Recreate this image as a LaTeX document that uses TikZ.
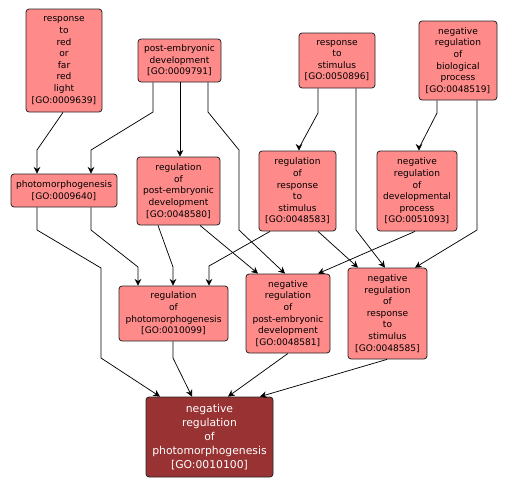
\documentclass[tikz,border=0pt]{standalone}
\usepackage{fontspec}
\setmainfont{DejaVu Sans}
\usetikzlibrary{arrows.meta}
\definecolor{gopink}{RGB}{255,138,138}
\definecolor{godark}{RGB}{153,50,50}
\tikzset{
  gobox/.style={draw=black!85, line width=0.6pt, rounded corners=2.3pt, fill=gopink,
    align=center, inner sep=0pt, font=\fontsize{6.8}{8.7}\selectfont},
  gofocus/.style={gobox, fill=godark, text=white, font=\fontsize{8.1}{10.5}\selectfont},
  golink/.style={draw=black, line width=0.55pt, -{Stealth[length=5pt,width=5pt,inset=1.6pt]}}
}
\begin{document}
\begin{tikzpicture}[x=0.75pt,y=-0.75pt]
\useasboundingbox (0,0) rectangle (507,487);
\node[gobox, minimum width=76*0.75pt, minimum height=103*0.75pt] (A) at (64,60.5) {response\\to\\red\\or\\far\\red\\light\\{[GO:0009639]}};
\node[gobox, minimum width=83*0.75pt, minimum height=43*0.75pt] (B) at (179.5,60.5) {post-embryonic\\development\\{[GO:0009791]}};
\node[gobox, minimum width=76*0.75pt, minimum height=55*0.75pt] (C) at (337,60.5) {response\\to\\stimulus\\{[GO:0050896]}};
\node[gobox, minimum width=78*0.75pt, minimum height=79*0.75pt] (D) at (458,60.5) {negative\\regulation\\of\\biological\\process\\{[GO:0048519]}};
\node[gobox, minimum width=106*0.75pt, minimum height=33*0.75pt] (E) at (64,190.5) {photomorphogenesis\\{[GO:0009640]}};
\node[gobox, minimum width=83*0.75pt, minimum height=68*0.75pt] (F) at (178.5,191) {regulation\\of\\post-embryonic\\development\\{[GO:0048580]}};
\node[gobox, minimum width=77*0.75pt, minimum height=80*0.75pt] (G) at (297.5,191) {regulation\\of\\response\\to\\stimulus\\{[GO:0048583]}};
\node[gobox, minimum width=80*0.75pt, minimum height=80*0.75pt] (H) at (417,191) {negative\\regulation\\of\\developmental\\process\\{[GO:0051093]}};
\node[gobox, minimum width=109*0.75pt, minimum height=55*0.75pt] (I) at (173.5,313.5) {regulation\\of\\photomorphogenesis\\{[GO:0010099]}};
\node[gobox, minimum width=84*0.75pt, minimum height=79*0.75pt] (J) at (288,313.5) {negative\\regulation\\of\\post-embryonic\\development\\{[GO:0048581]}};
\node[gobox, minimum width=79*0.75pt, minimum height=91*0.75pt] (K) at (387.5,313.5) {negative\\regulation\\of\\response\\to\\stimulus\\{[GO:0048585]}};
\node[gofocus, minimum width=127*0.75pt, minimum height=80*0.75pt] (L) at (209.5,437) {negative\\regulation\\of\\photomorphogenesis\\{[GO:0010100]}};
% edges
\draw[golink] (A.south -| 63,0) -- (37,150) -- (E.north -| 37,0);
\draw[golink] (B.south -| 153,0) -- (153,112) -- (91,150) -- (E.north -| 91,0);
\draw[golink] (B.south -| 180,0) -- (F.north -| 180,0);
\draw[golink] (B.south -| 208,0) -- (208,112) -- (239,150) -- (239,230) -- (J.north -| 285,0);
\draw[golink] (C.south -| 318,0) -- (318,113) -- (299,148) -- (G.north -| 299,0);
\draw[golink] (C.south -| 356,0) -- (356,230) -- (K.north -| 385,0);
\draw[golink] (D.south -| 437,0) -- (437,113) -- (419,148) -- (H.north -| 419,0);
\draw[golink] (D.south -| 477,0) -- (477,230) -- (K.north -| 415,0);
\draw[golink] (E.south -| 91,0) -- (91,230) -- (138,267) -- (I.north -| 138,0);
\draw[golink] (E.south -| 37,0) -- (37,230) -- (101,268) -- (101,358) -- (L.north -| 160,0);
\draw[golink] (F.south -| 158,0) -- (173,267) -- (I.north -| 173,0);
\draw[golink] (F.south -| 200,0) -- (J.north -| 258,0);
\draw[golink] (G.south -| 270,0) -- (209,266) -- (I.north -| 209,0);
\draw[golink] (G.south -| 318,0) -- (K.north -| 358,0);
\draw[golink] (H.south -| 415,0) -- (J.north -| 318,0);
\draw[golink] (I.south -| 173,0) -- (173,358) -- (L.north -| 192,0);
\draw[golink] (J.south -| 288,0) -- (L.north -| 228,0);
\draw[golink] (K.south -| 387,0) -- (L.north -| 260,0);
\end{tikzpicture}
\end{document}
